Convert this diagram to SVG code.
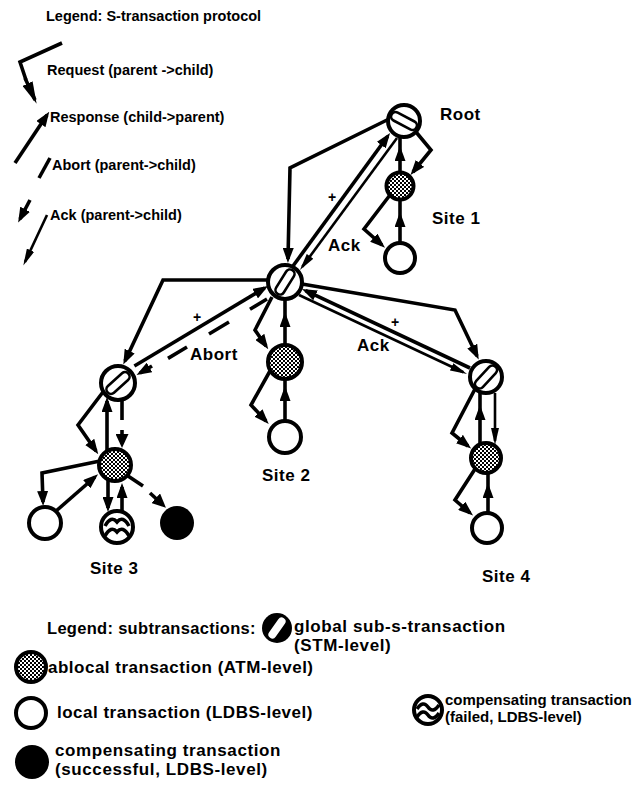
<svg xmlns="http://www.w3.org/2000/svg" width="642" height="799" viewBox="0 0 642 799">
  <defs>
    <!-- fine checker used for the ablocal (ATM-level) transactions -->
    <pattern id="dots" width="4" height="4" patternUnits="userSpaceOnUse">
      <rect width="4" height="4" fill="#fff"/>
      <rect width="2" height="2" fill="#000"/>
      <rect x="2" y="2" width="2" height="2" fill="#000"/>
    </pattern>
    <!-- standard filled arrowhead -->
    <marker id="ah" viewBox="0 0 15 11" refX="11" refY="5.5" markerWidth="15" markerHeight="11" markerUnits="userSpaceOnUse" orient="auto">
      <path d="M0,0 L15,5.5 L0,11 Z" fill="#000"/>
    </marker>
    <!-- slim, long arrowhead for acknowledgements -->
    <marker id="ak" viewBox="0 0 17 8" refX="13" refY="4" markerWidth="17" markerHeight="8" markerUnits="userSpaceOnUse" orient="auto">
      <path d="M0,0 L17,4 L0,8 Z" fill="#000"/>
    </marker>
    <!-- long wedge used in the protocol legend -->
    <marker id="wedge" viewBox="0 0 22 11" refX="18" refY="5.5" markerWidth="22" markerHeight="11" markerUnits="userSpaceOnUse" orient="auto">
      <path d="M0,0 L22,5.5 L0,11 Z" fill="#000"/>
    </marker>
    <!-- wide arrowhead for abort messages -->
    <marker id="wide" viewBox="0 0 14 13" refX="10" refY="6.5" markerWidth="14" markerHeight="13" markerUnits="userSpaceOnUse" orient="auto">
      <path d="M0,0 L14,6.5 L0,13 Z" fill="#000"/>
    </marker>
  </defs>
  <style>
    .t{font-family:"Liberation Sans",Arial,Helvetica,sans-serif;font-weight:bold;font-size:17px;letter-spacing:0.5px;fill:#000}
    .s{font-size:14.5px;letter-spacing:0}
    .h{font-size:16.5px;letter-spacing:0.3px}
    .m2{font-size:17px;letter-spacing:0.6px}
    .r2{font-size:15px;letter-spacing:0}
    .pl{font-family:"Liberation Sans",Arial,sans-serif;font-size:14px;font-weight:bold;fill:#000;text-anchor:middle}
    .ln{fill:none;stroke:#000;stroke-width:3.6}
    .thin{fill:none;stroke:#000;stroke-width:2.6}
    .ring{fill:#fff;stroke:#000;stroke-width:4}
    .band{fill:#fff;stroke:#000;stroke-width:2.6}
    .abl{fill:url(#dots);stroke:#000;stroke-width:4}
    .wave{fill:none;stroke:#000;stroke-width:3.5}
    .a{marker-end:url(#ah)}
    .m{marker-mid:url(#ah)}
    .k{marker-end:url(#ak)}
    .w{marker-end:url(#wide)}
  </style>

  <rect width="642" height="799" fill="#fff"/>

  <!-- protocol legend -->
  <g id="legend-protocol">
    <text class="t s" x="46" y="21">Legend: S-transaction protocol</text>
    <path class="ln" d="M62,43 L20,62 L26,80" stroke-width="4.5"/>
    <path class="ln" d="M25,78 L35,100" stroke-width="4.5" marker-end="url(#wedge)"/>
    <text class="t s" x="47" y="75">Request (parent -&gt;child)</text>
    <path class="ln a" d="M15,163 L47,115" stroke-width="4"/>
    <text class="t s" x="50" y="122">Response (child-&gt;parent)</text>
    <path class="ln" d="M50,158 L39,178" stroke-width="4.5"/>
    <path class="ln a" d="M30,200 L20,219" stroke-width="4"/>
    <text class="t s" x="52" y="170">Abort (parent-&gt;child)</text>
    <path class="thin k" d="M47,215 L25,262"/>
    <text class="t s" x="50" y="220">Ack (parent-&gt;child)</text>
  </g>

  <!-- message connectors -->
  <g id="connectors">
    <!-- root / middle site -->
    <path class="ln a" d="M389,119 L290,168 L288,259"/>
    <path class="ln a" d="M293,266 L387.7,136.2"/>
    <path class="thin k" d="M397,138 L302.3,266.8"/>
    <!-- root / site 1 -->
    <path class="ln a" d="M416,132 L431,150 L413,172"/>
    <path class="ln m" d="M400,171 L400,150 L400,138"/>
    <path class="ln m" d="M400,242 L400,216 L400,199"/>
    <path class="ln a" d="M390,195 L364,229 L382,245"/>
    <!-- middle / site 3 -->
    <path class="ln a" d="M268,280 L163,280 L125,361"/>
    <path class="ln a" d="M134.4,366 L264.6,288"/>
    <path class="ln" d="M267,299 L250,309.2 M229,322 L209,334 M187,347 L168,358.4"/>
    <path class="ln a" d="M152,366 L140,373"/>
    <!-- middle / site 2 -->
    <path class="ln m" d="M285,344 L285,316 L285,300"/>
    <path class="ln a" d="M272,297 L255,330 L266,346"/>
    <path class="ln m" d="M285,420 L285,390 L285,380"/>
    <path class="ln a" d="M270,371 L251,405 L266,421"/>
    <!-- middle / site 4 -->
    <path class="ln a" d="M302,284 L455,310 L477,356"/>
    <path class="ln a" d="M470,368 L305.6,290.7"/>
    <path class="thin k" d="M299,295 L463.4,372.3"/>
    <!-- site 4 internals -->
    <path class="ln m" d="M480,444 L480,409 L480,393"/>
    <path class="thin k" d="M495,393 L495,441"/>
    <path class="ln a" d="M475,389 L452,433 L468,446"/>
    <path class="ln m" d="M488,513 L488,487 L488,474"/>
    <path class="ln a" d="M475,469 L455,500 L470,513"/>
    <!-- site 3 internals -->
    <path class="ln a" d="M107,450 L107,401"/>
    <path class="ln" d="M122,400 L122,420"/>
    <path class="ln w" d="M122,430 L122,444"/>
    <path class="ln a" d="M103,392 L78,425 L96,451"/>
    <path class="ln a" d="M100,461 L42,473 L43,502"/>
    <path class="ln a" d="M56,511 L95,477"/>
    <path class="ln a" d="M108,480 L108,508"/>
    <path class="ln a" d="M122,511 L122,487"/>
    <path class="ln" d="M128,476 L143,486"/>
    <path class="ln w" d="M150,493 L163,505"/>
  </g>

  <!-- edge labels -->
  <g id="edge-labels">
    <text class="pl" x="332" y="202">+</text>
    <text class="t" x="328" y="251">Ack</text>
    <text class="pl" x="197" y="322">+</text>
    <text class="t" x="190" y="360">Abort</text>
    <text class="pl" x="395" y="327">+</text>
    <text class="t" x="357" y="351">Ack</text>
  </g>

  <!-- transactions -->
  <g id="root" transform="translate(404,121)">
    <circle class="ring" r="16"/>
    <rect class="band" x="-14" y="-4.5" width="28" height="9" rx="4.5" transform="rotate(28)"/>
  </g>
  <text class="t" x="440" y="120">Root</text>

  <g id="site1-ablocal" transform="translate(400,186)"><circle class="abl" r="13.5"/></g>
  <g id="site1-local" transform="translate(400,258)"><circle class="ring" r="15"/></g>
  <text class="t" x="432" y="224">Site 1</text>

  <g id="site2-global" transform="translate(285,282)">
    <circle class="ring" r="17"/>
    <rect class="band" x="-14" y="-4.5" width="28" height="9" rx="4.5" transform="rotate(-58)"/>
  </g>
  <g id="site2-ablocal" transform="translate(285,362)"><circle class="abl" r="17"/></g>
  <g id="site2-local" transform="translate(285,437)"><circle class="ring" r="16"/></g>
  <text class="t" x="262" y="481">Site 2</text>

  <g id="site3-global" transform="translate(118,383)">
    <circle class="ring" r="17"/>
    <rect class="band" x="-14" y="-4.5" width="28" height="9" rx="4.5" transform="rotate(-42)"/>
  </g>
  <g id="site3-ablocal" transform="translate(115,465)"><circle class="abl" r="16"/></g>
  <g id="site3-local" transform="translate(45,523)"><circle class="ring" r="16"/></g>
  <g id="site3-comp-failed" transform="translate(117,527)">
    <circle class="ring" r="16"/>
    <path class="wave" d="M-12,-1 Q-6,-12 0,-5 Q6,-12 12,-1"/>
    <path class="wave" d="M-12,9 Q-6,-2 0,5 Q6,-2 12,9"/>
  </g>
  <g id="site3-comp-ok" transform="translate(177,523)"><circle r="17" fill="#000"/></g>
  <text class="t" x="90" y="574">Site 3</text>

  <g id="site4-global" transform="translate(486,377)">
    <circle class="ring" r="16"/>
    <rect class="band" x="-14" y="-4.5" width="28" height="9" rx="4.5" transform="rotate(-47)"/>
  </g>
  <g id="site4-ablocal" transform="translate(486,458)"><circle class="abl" r="15"/></g>
  <g id="site4-local" transform="translate(487,528)"><circle class="ring" r="15"/></g>
  <text class="t" x="482" y="582">Site 4</text>

  <!-- subtransaction legend -->
  <g id="legend-subtransactions">
    <text class="t h" x="47" y="634">Legend: subtransactions:</text>
    <g transform="translate(277,628)">
      <circle r="15" fill="#000"/>
      <rect x="-12" y="-4" width="24" height="8" rx="4" fill="#fff" transform="rotate(-55)"/>
    </g>
    <text class="t m2" x="294" y="632">global sub-s-transaction</text>
    <text class="t m2" x="294" y="651">(STM-level)</text>

    <circle class="abl" cx="31" cy="667" r="15" stroke-width="4.5"/>
    <text class="t" x="48" y="673">ablocal transaction (ATM-level)</text>

    <circle class="ring" cx="31" cy="713" r="15" stroke-width="4.5"/>
    <text class="t" x="57" y="718">local transaction (LDBS-level)</text>

    <g transform="translate(428,710)">
      <circle class="ring" r="14" stroke-width="4.5"/>
      <path class="wave" stroke-width="4" d="M-11,-1 Q-5,-10 0,-3 Q5,4 11,-5"/>
      <path class="wave" stroke-width="4" d="M-11,7 Q-5,-2 0,5 Q5,12 11,3"/>
    </g>
    <text class="t r2" x="445" y="705">compensating transaction</text>
    <text class="t r2" x="445" y="722">(failed, LDBS-level)</text>

    <circle cx="32" cy="762" r="17" fill="#000"/>
    <text class="t m2" x="55" y="756">compensating transaction</text>
    <text class="t m2" x="55" y="775">(successful, LDBS-level)</text>
  </g>
</svg>
